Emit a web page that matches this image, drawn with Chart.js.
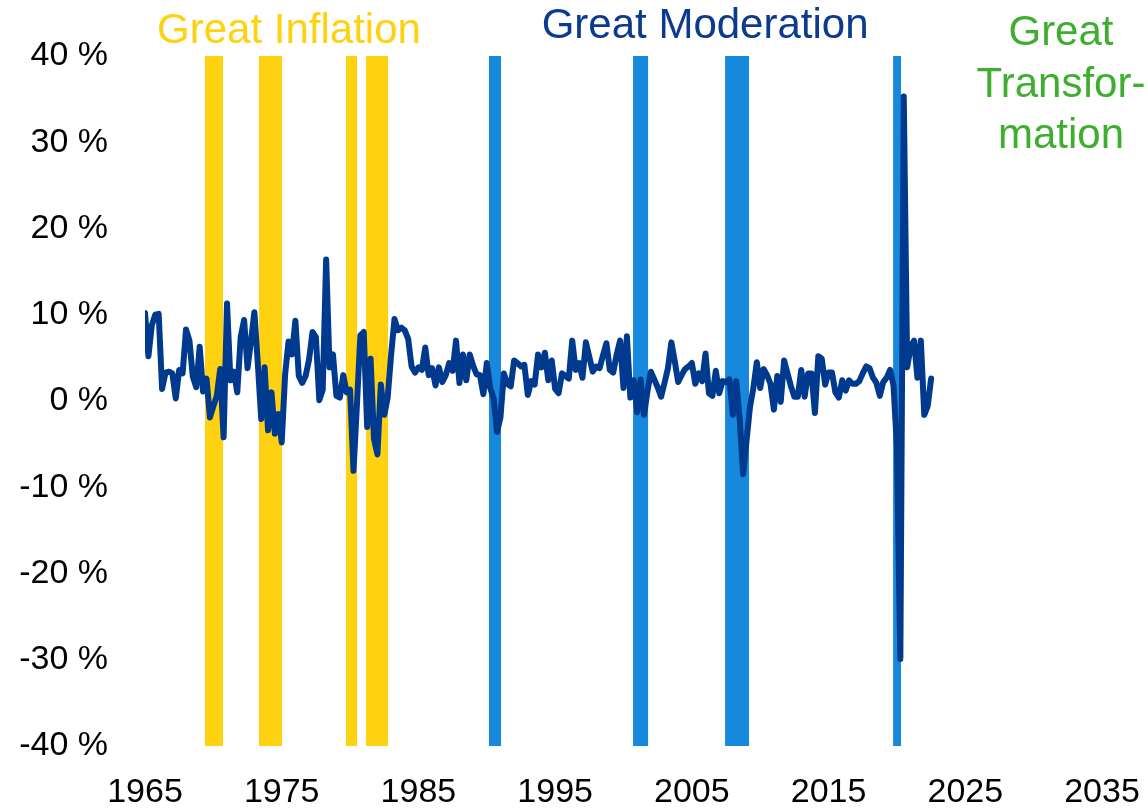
<!DOCTYPE html>
<html>
<head>
<meta charset="utf-8">
<script src="https://cdn.jsdelivr.net/npm/chart.js@4.4.0/dist/chart.umd.min.js"></script>
<style>
  html, body { margin: 0; padding: 0; background: #ffffff; }
  #wrap { width: 1148px; height: 808px; }
</style>
</head>
<body>
<div id="wrap"><canvas id="c" width="1148" height="808"></canvas></div>
<script>
// Quarterly real GDP growth, annualized (%), first quarter 1965Q1
const startYear = 1965;
const gdp1960s = [10.2, 5.2, 8.8, 10.0, 10.1, 1.4, 3.3, 3.4, 3.2, 0.3, 3.6, 3.2, 8.3, 7.0, 2.8, 1.6, 6.3, 1.1, 2.6, -1.9];
const gdp1970s = [-0.6, 0.6, 3.7, -4.2, 11.3, 2.4, 3.4, 1.0, 7.4, 9.4, 3.8, 6.9, 10.3, 4.4, -2.1, 3.9, -3.4, 1.0, -3.8, -1.5,
                  -4.8, 3.1, 6.9, 5.4, 9.3, 2.9, 2.1, 2.9, 4.8, 8.0, 7.4, 0.1, 1.3, 16.4, 3.9, 5.4, 0.6, 0.4, 3.0, 1.0];
const gdp1980s = [1.3, -8.1, -0.5, 7.6, 8.0, -3.0, 4.9, -4.4, -6.2, 1.9, -1.6, 0.4, 5.3, 9.5, 8.2, 8.5, 8.2, 7.2, 4.0, 3.3,
                  3.9, 3.6, 6.2, 3.0, 3.8, 1.8, 3.9, 2.2, 3.0, 4.4, 3.5, 7.0, 2.1, 5.4, 2.4, 5.4, 4.1, 3.1, 3.0, 0.8];
const gdp1990s = [4.4, 1.5, 0.3, -3.6, -1.9, 3.2, 2.0, 1.7, 4.7, 4.4, 4.0, 4.2, 0.7, 2.3, 1.9, 5.4, 3.9, 5.6, 2.4, 4.7,
                  1.4, 0.9, 3.2, 2.9, 2.6, 7.0, 3.6, 4.4, 2.7, 6.8, 5.1, 3.4, 4.0, 3.8, 5.3, 6.7, 3.6, 3.3, 5.4, 7.0];
const gdp2000s = [1.5, 7.5, 0.4, 2.4, -1.3, 2.5, -1.6, 1.1, 3.4, 2.5, 1.6, 0.5, 2.1, 3.8, 6.8, 4.6, 2.2, 3.0, 3.7, 4.0,
                  4.4, 2.0, 3.2, 2.3, 5.5, 0.9, 0.6, 3.5, 0.9, 2.3, 2.2, 2.5, -1.6, 2.3, -2.1, -8.5, -4.6, -0.7, 1.5, 4.5];
const gdp2010s = [1.5, 3.7, 3.0, 2.0, -1.0, 2.9, -0.1, 4.7, 3.2, 1.7, 0.5, 0.5, 3.6, 0.5, 3.2, 3.2, -1.4, 5.2, 4.9, 1.9,
                  3.3, 3.3, 1.0, 0.4, 2.4, 1.2, 2.4, 2.0, 2.0, 2.3, 3.2, 4.0, 3.8, 2.7, 2.1, 0.6, 2.2, 2.7, 3.6, 1.8];
const gdp2020s = [-5.3, -29.9, 35.3, 3.9, 6.3, 7.0, 2.7, 7.0, -1.6, -0.6, 2.6];

const xTickYears = [1965, 1975, 1985, 1995, 2005, 2015, 2025, 2035];
const yTickValues = [-40, -30, -20, -10, 0, 10, 20, 30, 40];

// Recession shading (start year, end year)
const inflationBars = [[1969.39, 1970.71], [1973.34, 1975.02], [1979.70, 1980.51], [1981.17, 1982.78]];
const moderationBars = [[1990.16, 1991.04], [2000.70, 2001.80], [2007.43, 2009.18], [2019.72, 2020.30]];

// Era labels: text lines, anchor year
const eraLabels = [
  { lines: ['Great Inflation'], year: 1975.53, color: '#FFD211', baselines: [43] },
  { lines: ['Great Moderation'], year: 2005.97, color: '#0B3A8E', baselines: [38] },
  { lines: ['Great', 'Transfor-', 'mation'], year: 2032.0, color: '#3DAE2E', baselines: [45, 97, 148] }
];

const gdpValues = [].concat(gdp1960s, gdp1970s, gdp1980s, gdp1990s, gdp2000s, gdp2010s, gdp2020s);
const points = gdpValues.map((v, i) => ({ x: startYear + i / 4, y: v }));

const FONT = '"Liberation Sans", Arial, sans-serif';

const shading = {
  id: 'shading',
  beforeDatasetsDraw(chart) {
    const { ctx, scales } = chart;
    const yTop = scales.y.getPixelForValue(40);
    const yBot = scales.y.getPixelForValue(-40);
    ctx.save();
    const draw = (list, color) => {
      ctx.fillStyle = color;
      list.forEach(([s, e]) => {
        const x0 = scales.x.getPixelForValue(s);
        const x1 = scales.x.getPixelForValue(e);
        ctx.fillRect(x0, yTop, x1 - x0, yBot - yTop);
      });
    };
    draw(inflationBars, '#FFD211');
    draw(moderationBars, '#1689DD');
    ctx.restore();
  },
  afterDraw(chart) {
    const { ctx, scales } = chart;
    ctx.save();
    ctx.font = '42px ' + FONT;
    ctx.textAlign = 'center';
    ctx.textBaseline = 'alphabetic';
    eraLabels.forEach(l => {
      ctx.fillStyle = l.color;
      const x = scales.x.getPixelForValue(l.year);
      l.lines.forEach((t, i) => ctx.fillText(t, x, l.baselines[i]));
    });
    ctx.restore();
  }
};

new Chart(document.getElementById('c'), {
  type: 'line',
  data: {
    datasets: [{
      data: points,
      borderColor: '#003A8F',
      borderWidth: 6,
      pointRadius: 0,
      tension: 0,
      borderJoinStyle: 'round',
      borderCapStyle: 'round',
      fill: false
    }]
  },
  options: {
    responsive: false,
    animation: false,
    devicePixelRatio: 1,
    layout: { padding: { left: 0, right: 46, top: 56, bottom: 0 } },
    plugins: { legend: { display: false }, tooltip: { enabled: false } },
    scales: {
      x: {
        type: 'linear',
        min: xTickYears[0],
        max: xTickYears[xTickYears.length - 1],
        afterBuildTicks(scale) { scale.ticks = xTickYears.map(v => ({ value: v })); },
        afterFit(scale) { scale.height = 62; scale.paddingLeft = 0; scale.paddingRight = 0; },
        grid: { display: false, drawTicks: false },
        border: { display: false },
        ticks: {
          callback: v => String(v),
          font: { family: FONT, size: 34 },
          color: '#000000',
          padding: 26,
          maxRotation: 0,
          autoSkip: false
        }
      },
      y: {
        min: yTickValues[0],
        max: yTickValues[yTickValues.length - 1],
        afterBuildTicks(scale) { scale.ticks = yTickValues.map(v => ({ value: v })); },
        afterFit(scale) { scale.width = 145; scale.paddingTop = 0; scale.paddingBottom = 0; },
        grid: { display: false, drawTicks: false },
        border: { display: false },
        ticks: {
          callback: v => v + ' %',
          font: { family: FONT, size: 34 },
          color: '#000000',
          padding: 37
        }
      }
    }
  },
  plugins: [shading]
});
</script>
</body>
</html>
